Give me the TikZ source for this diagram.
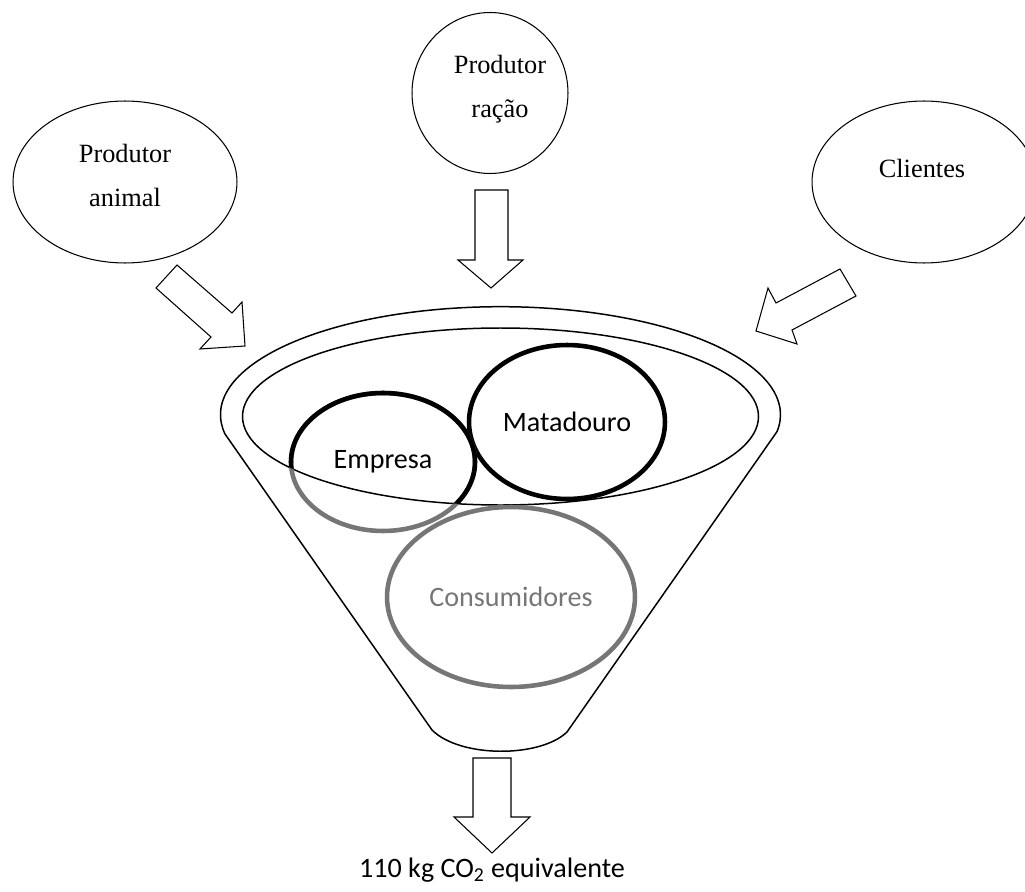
\documentclass[tikz,border=0pt]{standalone}
\usepackage{fontspec}
\setmainfont{Liberation Serif}
\newfontfamily\calibrifont{Carlito}
\usetikzlibrary{shapes.geometric,positioning}
\definecolor{ringgray}{RGB}{118,118,118}

\begin{document}
\begin{tikzpicture}[x=0.02cm,y=0.02cm,
    source/.style={draw,ellipse,line width=0.6pt,inner sep=0pt},
    srctext/.style={font=\fontsize{15}{18}\selectfont,anchor=base},
    ring/.style={ellipse,line width=2.6pt,inner sep=0pt,font=\calibrifont\fontsize{16}{19}\selectfont},
    funnel/.style={line width=0.85pt,line join=round},
    bigarrow/.style={draw,line width=0.6pt,fill=white,line join=miter}]
  \useasboundingbox (0,0) rectangle (1025,-892);

  % the three sources
  \node[source,minimum width=4.48cm,minimum height=3.24cm] (animal) at (125,-182) {};
  \node[srctext] (animal1) at ([yshift=0.4cm]animal.center) {Produtor};
  \node[srctext] (animal2) at ([yshift=-0.9cm]animal1.base) {animal};

  \node[source,minimum width=3.12cm,minimum height=3.22cm] (racao) at (490,-93) {};
  \node[srctext] (racao1) at ([shift={(0.2cm,0.4cm)}]racao.center) {Produtor};
  \node[srctext] (racao2) at ([yshift=-0.9cm]racao1.base) {ração};

  \node[source,minimum width=4.48cm,minimum height=3.24cm] (clientes) at (924,-182) {};
  \node[srctext] (clientes1) at ([shift={(-0.04cm,0.1cm)}]clientes.center) {Clientes};

  % funnel
  \draw[funnel] (225,-434) arc[start angle=190.3,end angle=-9,x radius=280,y radius=108]
    -- (567,-732) .. controls (540,-758) and (460,-758) .. (432,-730) -- cycle;
  \draw[funnel] (500.5,-416.5) ellipse [x radius=258,y radius=88.5];

  % rings
  \node[ring,draw=black,minimum width=3.92cm,minimum height=3.08cm] (matadouro) at (567,-422) {Matadouro};
  \node[ring,draw=ringgray,minimum width=3.68cm,minimum height=2.76cm] (empresa) at (383,-462) {Empresa};
  \begin{scope}
    \clip (500.5,-416.5) ellipse [x radius=258,y radius=88.5];
    \draw[line width=2.6pt] (empresa.center) ellipse [x radius=92,y radius=69];
  \end{scope}
  \node[ring,draw=ringgray,text=ringgray,minimum width=4.96cm,minimum height=3.6cm] (consum) at (511,-597) {Consumidores};

  % block arrows
  \draw[bigarrow] (177,-265) -- (232,-313) -- (242,-302) -- (245,-346) -- (200,-349) -- (211,-337) -- (156,-288) -- cycle;
  \draw[bigarrow] (475,-190) -- (508,-190) -- (508,-260) -- (523,-260) -- (491,-288) -- (458,-260) -- (475,-260) -- cycle;
  \draw[bigarrow] (840,-269) -- (856,-296) -- (792,-330) -- (797,-344) -- (756,-331) -- (768,-288) -- (776,-303) -- cycle;
  \draw[bigarrow] (473,-758) -- (511,-758) -- (511,-817) -- (530,-817) -- (492,-853) -- (454,-817) -- (473,-817) -- cycle;

  \node[font=\calibrifont\fontsize{16}{19}\selectfont,anchor=base] (total) at (492,-877) {110 kg CO\textsubscript{2} equivalente};
\end{tikzpicture}
\end{document}
